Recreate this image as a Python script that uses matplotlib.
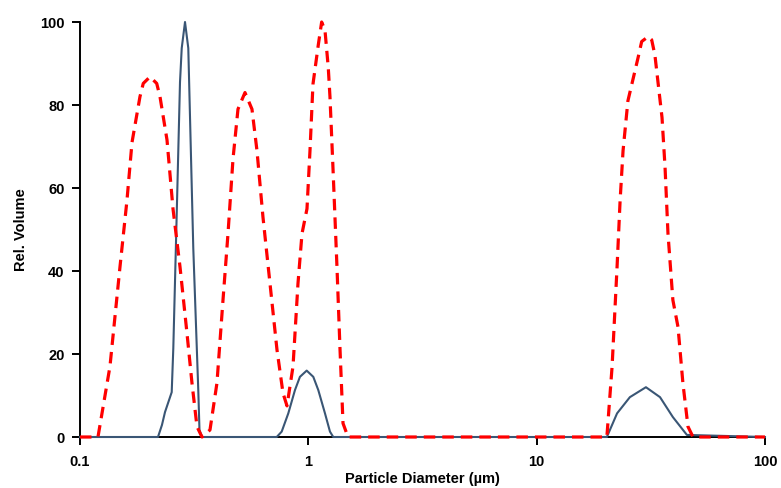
import matplotlib
matplotlib.use("Agg")
import matplotlib.pyplot as plt
from matplotlib.ticker import FixedLocator, FixedFormatter, NullLocator

plt.rcParams['font.family'] = ['Liberation Sans', 'DejaVu Sans']

# Dashed red distribution
red_d = [0.1, 0.1199, 0.1353, 0.1497, 0.1606, 0.169, 0.1831, 0.1893, 0.2026, 0.2168,
         0.2241, 0.2405, 0.2555, 0.2742, 0.2942, 0.3094, 0.3254, 0.3422, 0.371, 0.398,
         0.423, 0.4449, 0.4679, 0.492, 0.528, 0.5666, 0.5959, 0.633, 0.6794, 0.7292,
         0.7746, 0.8065, 0.857, 0.9011, 0.9383, 0.9867, 1.017, 1.048, 1.106, 1.144,
         1.183, 1.223, 1.244, 1.282, 1.335, 1.377, 1.419, 1.492, 20.3, 21.4,
         22.5, 23.2, 23.9, 25.1, 27.86, 28.84, 30.83, 31.9, 32.96, 35.4,
         36.5, 37.6, 39.5, 41.6, 43.7, 46.0, 48.4, 100]
red_v = [0, 0, 17, 41, 57, 71, 82, 85.2, 86.8, 85.2,
         82, 71.6, 55, 41, 25, 13, 2.5, 0, 1.7, 13,
         33, 49, 67, 79, 83, 79, 69, 53, 37, 21,
         10.6, 7.5, 17, 37, 49, 55, 69, 85, 94.5, 100,
         98, 89, 82, 65, 41, 21, 3.3, 0, 0, 17,
         41, 57, 69, 81, 91.6, 95.3, 96.5, 95.7, 92, 77,
         65, 49, 33, 26.5, 13, 2.5, 0, 0]

# Solid blue distribution
blue_d = [0.1, 0.2196, 0.2286, 0.2357, 0.2522, 0.2563, 0.2652, 0.2742, 0.279, 0.2884,
          0.2981, 0.3135, 0.3297, 0.3337, 0.3422, 0.7271, 0.7646, 0.8172, 0.874, 0.919,
          0.9838, 1.0515, 1.106, 1.183, 1.244, 1.286, 20.3, 22.5, 25.6, 30.1,
          34.7, 39.5, 45.5, 100]
blue_v = [0, 0, 2.9, 6, 10.8, 21.4, 53.5, 85.5, 93.7, 100,
          93.7, 45.5, 11.3, 1.7, 0, 0, 1.3, 5.7, 11.3, 14.5,
          16, 14.5, 11.3, 5.7, 1.3, 0, 0, 5.7, 9.6, 12,
          9.6, 4.8, 0.5, 0]

x_ticks = [0.1, 1, 10, 100]
x_labels = ['0.1', '1', '10', '100']
y_ticks = [0, 20, 40, 60, 80, 100]

fig = plt.figure(figsize=(7.81, 4.88), dpi=100)
ax = fig.add_axes([0.1024, 0.1045, 0.8771, 0.8504])

ax.plot(blue_d, blue_v, color='#3A5675', lw=1.5, solid_joinstyle='round',
        clip_on=False, zorder=3)
ax.plot(red_d, red_v, color='#FF0000', lw=2.3, dashes=(3.6, 2.2),
        clip_on=False, zorder=4)

ax.set_xscale('log')
ax.set_xlim(0.1, 100)
ax.set_ylim(0, 100)
ax.xaxis.set_major_locator(FixedLocator(x_ticks))
ax.xaxis.set_major_formatter(FixedFormatter(x_labels))
ax.xaxis.set_minor_locator(NullLocator())
ax.set_yticks(y_ticks)

for side in ('top', 'right'):
    ax.spines[side].set_visible(False)
for side in ('left', 'bottom'):
    ax.spines[side].set_linewidth(1.4)
    ax.spines[side].set_color('black')

ax.tick_params(axis='both', direction='out', length=6, width=1.4, labelsize=10.5)
ax.tick_params(axis='y', pad=5)
ax.tick_params(axis='x', pad=7)
for lab in ax.get_xticklabels() + ax.get_yticklabels():
    lab.set_fontweight('bold')

ax.set_xlabel('Particle Diameter (µm)', fontsize=10.5, fontweight='bold')
ax.xaxis.set_label_coords(0.5, -0.084)
ax.set_ylabel('Rel. Volume', fontsize=10.5, fontweight='bold', labelpad=9)

fig.savefig('out.png', dpi=100)
